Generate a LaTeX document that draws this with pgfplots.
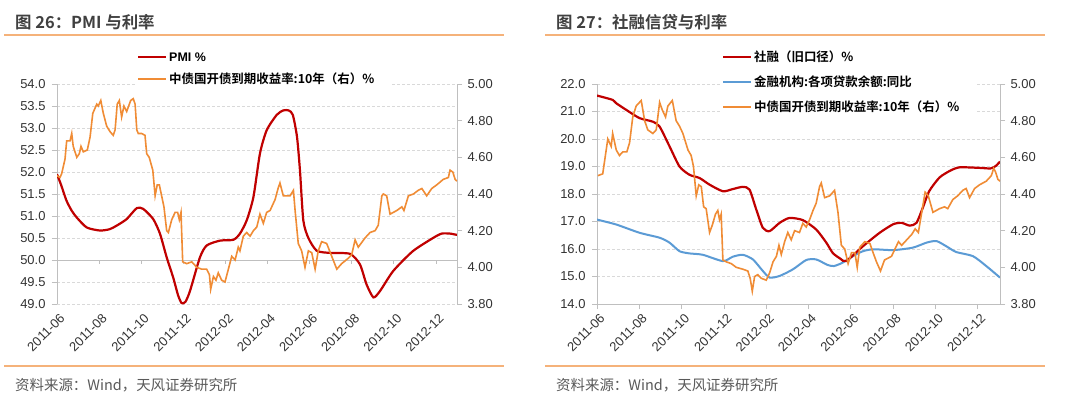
\documentclass[border=0pt]{standalone}
\usepackage{fontspec}
\setmainfont{Liberation Sans}
\newfontfamily\cjk{Noto Sans CJK SC}[BoldFont={Noto Sans CJK SC Bold}]
\usepackage{pgfplots}
\pgfplotsset{compat=1.18}
\definecolor{cred}{HTML}{C00000}
\definecolor{corange}{HTML}{F08C35}
\definecolor{cblue}{HTML}{5B9BD5}
\definecolor{sepor}{HTML}{F5B27A}
\definecolor{axisgray}{HTML}{BFBFBF}
\definecolor{gridgray}{HTML}{D9D9D9}
\definecolor{labgray}{HTML}{333333}
\definecolor{titlegray}{HTML}{404040}
\definecolor{footgray}{HTML}{595959}
\pgfplotsset{
  base/.style={scale only axis, height=220bp, xmin=0,
    axis line style={axisgray,-,line width=0.8bp},
    tick align=outside, major tick length=5bp,
    tick style={axisgray,line width=0.8bp},
    ticklabel style={font=\fontsize{13}{13}\selectfont, text=labgray},
    /pgf/number format/assume math mode=true,
    clip=true},
  lefty/.style={axis y line*=left, axis x line*=bottom,
    ymajorgrids, grid style={gridgray, dash pattern=on 3bp off 2bp, line width=0.7bp},
    xtick={0,2,4,6,8,10,12,14,16,18},
    xticklabels={2011-06,2011-08,2011-10,2011-12,2012-02,2012-04,2012-06,2012-08,2012-10,2012-12},
    xticklabel style={rotate=45, anchor=north east, inner sep=1bp, yshift=-3bp},
    yticklabel style={xshift=-3bp}},
  righty/.style={axis y line*=right, axis x line=none, xtick=\empty,
    ytick={3.8,4.0,4.2,4.4,4.6,4.8,5.0},
    ymin=3.8, ymax=5.0,
    yticklabel style={xshift=2bp, /pgf/number format/fixed, /pgf/number format/fixed zerofill, /pgf/number format/precision=2}},
}
\begin{document}
\begin{tikzpicture}[x=1bp,y=1bp]
\fill[white] (0,0) rectangle (1080,399);
% titles, separators, footers
\node[anchor=west, inner sep=0, text=titlegray, font=\cjk\bfseries\fontsize{16.5}{16.5}\selectfont] at (15,377) {图 26：PMI 与利率};
\node[anchor=west, inner sep=0, text=titlegray, font=\cjk\bfseries\fontsize{16.5}{16.5}\selectfont] at (556,377) {图 27：社融信贷与利率};
\draw[sepor, line width=1.3bp] (4,364) -- (504,364);
\draw[sepor, line width=1.3bp] (545,364) -- (1045,364);
\draw[sepor, line width=1.3bp] (4,33) -- (504,33);
\draw[sepor, line width=1.3bp] (545,33) -- (1045,33);
\node[anchor=west, inner sep=0, text=footgray, font=\cjk\fontsize{14.5}{14.5}\selectfont] at (15,14) {资料来源：Wind，天风证券研究所};
\node[anchor=west, inner sep=0, text=footgray, font=\cjk\fontsize{14.5}{14.5}\selectfont] at (556,14) {资料来源：Wind，天风证券研究所};

% ---------- Left panel ----------
\begin{axis}[base, lefty, at={(57bp,95bp)}, anchor=south west, width=400bp, xmax=19,
  ymin=49, ymax=54, ytick={49,49.5,50,50.5,51,51.5,52,52.5,53,53.5,54},
  x axis line style={draw=none}, xtick style={draw=none},
  yticklabel style={/pgf/number format/fixed, /pgf/number format/fixed zerofill, /pgf/number format/precision=1}]
\draw[axisgray, line width=0.8bp] (axis cs:0,50) -- (axis cs:19,50);
\pgfplotsinvokeforeach{2,4,6,8,10,12,14,16,18}{\draw[axisgray, line width=0.8bp] (axis cs:#1,50) -- (axis cs:#1,49.91);}
\addplot[cred, line width=2.2bp, smooth, tension=0.4] coordinates {
(0,51.95)(0.2,51.7)(0.45,51.35)(0.7,51.12)(0.93,50.97)(1.41,50.74)(2.04,50.67)(2.5,50.7)(2.83,50.78)(3.31,50.93)(3.79,51.18)(4.1,51.16)(4.57,50.93)(4.89,50.6)(5.21,50.06)(5.52,49.6)(5.75,49.2)(5.92,49.02)(6.1,49.05)(6.32,49.3)(6.79,50.06)(7.11,50.33)(7.74,50.44)(8.38,50.46)(8.69,50.6)(9.01,50.9)(9.33,51.43)(9.64,52.42)(9.96,52.95)(10.44,53.3)(10.75,53.4)(11.0,53.4)(11.2,53.3)(11.4,52.8)(11.54,52.04)(11.7,50.9)(11.94,50.5)(12.34,50.21)(13.0,50.16)(13.92,50.14)(14.39,49.9)(14.7,49.45)(15.03,49.15)(15.35,49.3)(15.97,49.75)(16.9,50.2)(17.86,50.5)(18.27,50.6)(18.67,50.6)(19.0,50.57)};
\end{axis}
\begin{axis}[base, righty, at={(57bp,95bp)}, anchor=south west, width=400bp, xmax=19]
\addplot[corange, line width=1.6bp] coordinates {
(0.00,4.50)(0.14,4.49)(0.22,4.51)(0.38,4.59)(0.46,4.69)(0.62,4.69)(0.70,4.73)(0.77,4.66)(0.94,4.60)(1.06,4.62)(1.14,4.66)(1.25,4.63)(1.44,4.64)(1.57,4.71)(1.70,4.84)(1.89,4.89)(1.96,4.88)(2.08,4.91)(2.20,4.84)(2.36,4.77)(2.52,4.74)(2.67,4.72)(2.76,4.75)(2.86,4.89)(2.96,4.91)(3.07,4.82)(3.18,4.88)(3.31,4.85)(3.50,4.91)(3.62,4.92)(3.71,4.89)(3.79,4.75)(3.86,4.73)(4.02,4.73)(4.18,4.72)(4.26,4.62)(4.38,4.60)(4.55,4.53)(4.66,4.39)(4.76,4.45)(4.86,4.45)(4.97,4.39)(5.08,4.33)(5.21,4.20)(5.29,4.19)(5.45,4.26)(5.61,4.30)(5.73,4.30)(5.81,4.26)(5.89,4.30)(5.97,4.03)(6.16,4.02)(6.40,4.03)(6.64,4.00)(6.87,3.99)(7.11,3.99)(7.24,3.96)(7.30,3.88)(7.43,3.95)(7.55,3.93)(7.66,3.97)(7.82,3.93)(7.98,3.92)(8.14,3.99)(8.30,4.06)(8.46,4.04)(8.61,4.11)(8.69,4.09)(8.85,4.17)(9.01,4.19)(9.17,4.17)(9.33,4.20)(9.49,4.22)(9.64,4.29)(9.80,4.24)(9.96,4.30)(10.12,4.31)(10.28,4.35)(10.36,4.37)(10.50,4.43)(10.59,4.46)(10.75,4.39)(10.91,4.39)(11.07,4.39)(11.23,4.42)(11.31,4.31)(11.46,4.13)(11.62,4.09)(11.78,4.00)(11.94,4.09)(12.10,4.08)(12.26,3.99)(12.41,4.09)(12.57,4.14)(12.81,4.13)(13.05,4.06)(13.29,3.99)(13.52,4.02)(13.84,4.05)(14.00,4.07)(14.16,4.15)(14.31,4.11)(14.63,4.16)(14.87,4.19)(15.11,4.20)(15.26,4.23)(15.43,4.39)(15.50,4.40)(15.66,4.39)(15.82,4.29)(16.14,4.31)(16.38,4.33)(16.48,4.31)(16.69,4.39)(16.93,4.40)(17.16,4.42)(17.33,4.43)(17.56,4.39)(17.80,4.43)(18.04,4.45)(18.35,4.48)(18.59,4.49)(18.67,4.53)(18.80,4.52)(18.91,4.48)(19.00,4.47)};
\end{axis}

% ---------- Right panel ----------
\begin{axis}[base, lefty, at={(597bp,95bp)}, anchor=south west, width=403bp, xmax=19.05,
  ymin=14, ymax=22, ytick={14,15,16,17,18,19,20,21,22},
  yticklabel style={/pgf/number format/fixed, /pgf/number format/fixed zerofill, /pgf/number format/precision=1}]
\addplot[cblue, line width=2bp, smooth, tension=0.4] coordinates {
(0,17.07)(0.91,16.89)(2.01,16.59)(2.96,16.41)(3.43,16.23)(3.9,15.92)(4.37,15.84)(5.0,15.79)(5.95,15.56)(6.42,15.72)(6.89,15.79)(7.37,15.62)(7.84,15.2)(8.16,14.96)(8.63,15.02)(9.26,15.26)(9.89,15.6)(10.36,15.62)(10.9,15.42)(11.2,15.38)(11.6,15.5)(12.1,15.74)(12.57,15.92)(13.06,15.99)(14.0,15.96)(14.93,16.05)(15.57,16.23)(16.04,16.29)(16.51,16.1)(16.98,15.89)(17.77,15.74)(18.4,15.38)(19.05,14.96)};
\addplot[cred, line width=2.2bp, smooth, tension=0.4] coordinates {
(0,21.58)(0.75,21.42)(0.91,21.30)(1.38,21.06)(2.01,20.76)(2.64,20.63)(2.96,20.45)(3.43,19.73)(3.9,19.0)(4.37,18.70)(4.85,18.58)(5.32,18.34)(5.95,18.10)(6.42,18.18)(6.89,18.26)(7.21,18.16)(7.53,17.43)(7.84,16.77)(8.16,16.65)(8.63,16.95)(9.1,17.13)(9.73,17.05)(10.36,16.71)(10.84,16.23)(11.15,15.85)(11.5,15.65)(11.78,15.56)(12.57,16.1)(13.36,16.59)(14.0,16.9)(14.4,16.95)(14.78,16.85)(15.1,16.95)(15.4,17.5)(15.7,18.1)(16.19,18.6)(16.7,18.85)(17.14,18.97)(18.09,18.95)(18.6,18.93)(18.85,19.02)(19.05,19.18)};
\end{axis}
\begin{axis}[base, righty, at={(597bp,95bp)}, anchor=south west, width=403bp, xmax=19.05]
\addplot[corange, line width=1.6bp] coordinates {
(0.04,4.50)(0.27,4.51)(0.51,4.70)(0.67,4.66)(0.74,4.73)(0.91,4.64)(1.06,4.61)(1.22,4.63)(1.41,4.63)(1.54,4.68)(1.69,4.82)(1.85,4.88)(2.01,4.90)(2.09,4.91)(2.25,4.80)(2.40,4.75)(2.64,4.73)(2.80,4.75)(2.96,4.90)(3.08,4.86)(3.24,4.82)(3.35,4.88)(3.56,4.91)(3.74,4.80)(3.90,4.77)(4.06,4.73)(4.30,4.64)(4.45,4.61)(4.56,4.55)(4.69,4.39)(4.81,4.45)(4.93,4.44)(5.04,4.33)(5.16,4.32)(5.32,4.19)(5.45,4.23)(5.60,4.29)(5.71,4.31)(5.79,4.26)(5.87,4.29)(5.95,4.04)(6.11,4.03)(6.35,4.02)(6.58,4.00)(6.89,3.99)(7.13,3.98)(7.24,3.94)(7.34,3.87)(7.45,3.95)(7.60,3.96)(7.77,3.94)(8.00,3.93)(8.16,3.97)(8.32,4.03)(8.48,4.06)(8.60,4.12)(8.71,4.07)(8.87,4.14)(9.02,4.19)(9.18,4.15)(9.34,4.20)(9.57,4.19)(9.73,4.24)(9.89,4.22)(10.05,4.26)(10.21,4.31)(10.36,4.35)(10.52,4.44)(10.60,4.46)(10.76,4.38)(11.00,4.39)(11.23,4.42)(11.39,4.30)(11.55,4.12)(11.71,4.10)(11.87,4.02)(12.03,4.08)(12.19,4.08)(12.30,4.00)(12.42,4.11)(12.66,4.14)(12.90,4.13)(13.05,4.08)(13.21,4.03)(13.40,3.98)(13.59,4.04)(13.92,4.06)(14.25,4.14)(14.40,4.12)(14.64,4.15)(14.88,4.18)(15.04,4.21)(15.19,4.19)(15.35,4.30)(15.51,4.41)(15.66,4.39)(15.88,4.30)(16.19,4.32)(16.43,4.33)(16.58,4.32)(16.82,4.37)(17.05,4.39)(17.29,4.42)(17.45,4.43)(17.61,4.38)(17.85,4.43)(18.08,4.45)(18.40,4.47)(18.64,4.50)(18.75,4.54)(18.84,4.52)(18.95,4.48)(19.05,4.47)};
\end{axis}

% ---------- Legends ----------
\fill[white] (135,307) rectangle (390,354);
\draw[cred, line width=2.2bp] (138,342) -- (166,342);
\node[anchor=west, inner sep=0, text=black, font=\bfseries\fontsize{12.5}{12.5}\selectfont] at (169,342) {PMI \%};
\draw[corange, line width=2bp] (138,320) -- (166,320);
\node[anchor=west, inner sep=0, text=black, font=\cjk\bfseries\fontsize{12.5}{12.5}\selectfont] at (169,320) {中债国开债到期收益率:10年（右）\%};

\fill[white] (720,282) rectangle (975,354);
\draw[cred, line width=2.2bp] (723,342) -- (751,342);
\node[anchor=west, inner sep=0, text=black, font=\cjk\bfseries\fontsize{12.5}{12.5}\selectfont] at (754,342) {社融（旧口径）\%};
\draw[cblue, line width=2bp] (723,317) -- (751,317);
\node[anchor=west, inner sep=0, text=black, font=\cjk\bfseries\fontsize{12.5}{12.5}\selectfont] at (754,317) {金融机构:各项贷款余额:同比};
\draw[corange, line width=2bp] (723,292) -- (751,292);
\node[anchor=west, inner sep=0, text=black, font=\cjk\bfseries\fontsize{12.5}{12.5}\selectfont] at (754,292) {中债国开债到期收益率:10年（右）\%};
\end{tikzpicture}
\end{document}
